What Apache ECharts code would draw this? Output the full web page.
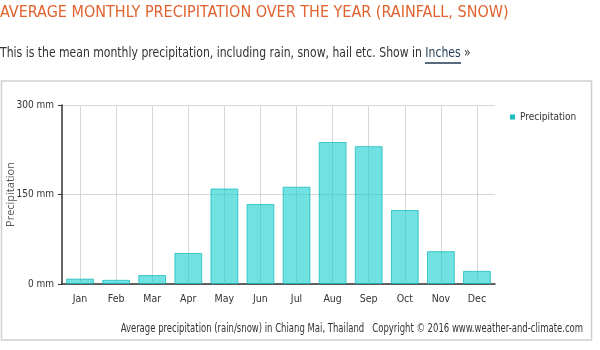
<!DOCTYPE html>
<html>
<head>
<meta charset="utf-8">
<script src="https://cdn.jsdelivr.net/npm/echarts@6/dist/echarts.min.js"></script>
<style>
html,body{margin:0;padding:0;background:#fff;}
#chart{width:600px;height:350px;}
</style>
</head>
<body>
<div id="chart"></div>
<script>
const months = ['Jan','Feb','Mar','Apr','May','Jun','Jul','Aug','Sep','Oct','Nov','Dec'];
const precipitation = [9, 7, 15, 52, 160, 134, 163, 238, 231, 124, 55, 22];
const yTicks = [0, 150, 300];
const titleText = 'AVERAGE MONTHLY PRECIPITATION OVER THE YEAR (RAINFALL, SNOW)';
const subtitleLead = 'This is the mean monthly precipitation, including rain, snow, hail etc. Show in ';
const subtitleLink = 'Inches';
const footerText = 'Average precipitation (rain/snow) in Chiang Mai, Thailand   Copyright \u00a9 2016 www.weather-and-climate.com';

const narrow = '"DejaVu Sans Condensed", sans-serif';

const chart = echarts.init(document.getElementById('chart'), null, {renderer: 'canvas'});
chart.setOption({
  animation: false,
  backgroundColor: '#fff',
  grid: {left: 62, right: 105, top: 105, bottom: 66, containLabel: false, outerBoundsMode: 'none'},
  legend: {
    data: ['Precipitation'],
    left: 505, top: 107,
    icon: 'rect', itemWidth: 5, itemHeight: 5, itemGap: 4,
    itemStyle: {color: '#19bdbd', borderWidth: 0},
    textStyle: {fontFamily: narrow, fontSize: 10, color: '#333'}
  },
  xAxis: {
    type: 'category',
    data: months,
    boundaryGap: true,
    axisLine: {show: true, lineStyle: {color: '#333', width: 1.5}},
    axisTick: {show: true, inside: true, alignWithLabel: true, length: 179, lineStyle: {color: '#d6d6d6', width: 1}},
    splitLine: {show: false},
    axisLabel: {fontFamily: narrow, fontSize: 10.5, color: '#333', margin: 10}
  },
  yAxis: {
    type: 'value',
    min: 0, max: 300, interval: 150,
    name: 'Precipitation',
    nameLocation: 'middle',
    nameRotate: 90,
    nameGap: 46,
    nameMoveOverlap: false,
    nameTextStyle: {fontFamily: '"Open Sans", sans-serif', fontSize: 11, color: '#555'},
    axisLine: {show: true, lineStyle: {color: '#333', width: 1.5}},
    axisTick: {show: true, length: 4, lineStyle: {color: '#333'}},
    splitLine: {show: true, lineStyle: {color: '#d6d6d6', width: 1}},
    axisLabel: {fontFamily: narrow, fontSize: 10, color: '#333', margin: 8,
      formatter: v => yTicks.includes(v) ? v + ' mm' : ''}
  },
  series: [{
    name: 'Precipitation',
    type: 'bar',
    data: precipitation,
    barCategoryGap: '23%',
    itemStyle: {color: 'rgba(20,205,205,0.6)', borderColor: 'rgba(20,185,185,0.75)', borderWidth: 1},
    z: 2
  }],
  graphic: [
    {type: 'text', x: 0, y: 5, style: {text: titleText, fontFamily: narrow, fontSize: 16, fill: '#e0622f'}},
    {type: 'text', x: 0, y: 46, scaleX: 0.862, style: {
      text: '{a|' + subtitleLead + '}{b|' + subtitleLink + '}{a| \u00bb}',
      rich: {
        a: {fontFamily: narrow, fontSize: 14, fill: '#333', color: '#333'},
        b: {fontFamily: narrow, fontSize: 14, fill: '#1f3b55', color: '#1f3b55'}
      }
    }},
    {type: 'line', shape: {x1: 425, y1: 63, x2: 461, y2: 63}, style: {stroke: '#1f3b55', lineWidth: 1.5}},
    {type: 'rect', shape: {x: 1.5, y: 81, width: 590, height: 259}, style: {fill: 'none', stroke: '#cfcfcf', lineWidth: 1.5}, z: -1},
    {type: 'text', x: 583, y: 323, scaleX: 0.82, style: {text: footerText, textAlign: 'right', fontFamily: narrow, fontSize: 11.5, fill: '#333'}}
  ]
});
</script>
</body>
</html>
